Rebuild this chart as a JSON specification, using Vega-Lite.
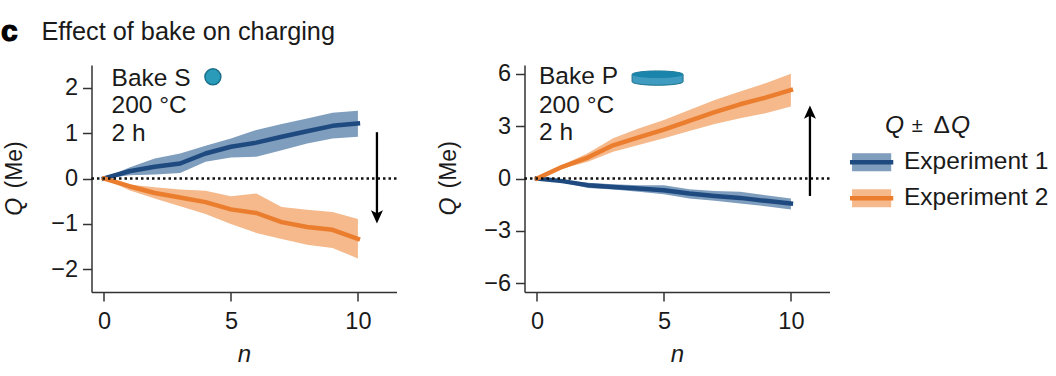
{
"$schema":"https://vega.github.io/schema/vega-lite/v6.json",
"padding":{"left":0.5,"top":17,"right":0,"bottom":0},
"bounds":"flush",
"spacing":128,
"config":{"view":{"stroke":null},"font":"Liberation Sans","axis":{"labelFont":"Liberation Sans","titleFont":"Liberation Sans","labelColor":"#1a1a1a","titleColor":"#1a1a1a","domainColor":"#333333","tickColor":"#333333","domainWidth":1.5,"tickWidth":1.5,"tickSize":9,"labelFontSize":23.5,"titleFontSize":24,"grid":false,"labelPadding":5}},
"datasets":{
"one":[{}],
"s":[
{"exp":"Experiment 1","n":0,"q":0,"lo":0,"hi":0},{"exp":"Experiment 1","n":1,"q":0.16,"lo":0.07,"hi":0.24},{"exp":"Experiment 1","n":2,"q":0.26,"lo":0.09,"hi":0.44},{"exp":"Experiment 1","n":3,"q":0.33,"lo":0.12,"hi":0.55},{"exp":"Experiment 1","n":4,"q":0.55,"lo":0.37,"hi":0.72},{"exp":"Experiment 1","n":5,"q":0.7,"lo":0.46,"hi":0.88},{"exp":"Experiment 1","n":6,"q":0.79,"lo":0.48,"hi":1.07},{"exp":"Experiment 1","n":7,"q":0.92,"lo":0.62,"hi":1.2},{"exp":"Experiment 1","n":8,"q":1.04,"lo":0.77,"hi":1.32},{"exp":"Experiment 1","n":9,"q":1.16,"lo":0.88,"hi":1.45},{"exp":"Experiment 1","n":10,"q":1.21,"lo":0.92,"hi":1.49},
{"exp":"Experiment 2","n":0,"q":0,"lo":0,"hi":0},{"exp":"Experiment 2","n":1,"q":-0.17,"lo":-0.26,"hi":-0.13},{"exp":"Experiment 2","n":2,"q":-0.32,"lo":-0.44,"hi":-0.19},{"exp":"Experiment 2","n":3,"q":-0.42,"lo":-0.61,"hi":-0.24},{"exp":"Experiment 2","n":4,"q":-0.52,"lo":-0.78,"hi":-0.27},{"exp":"Experiment 2","n":5,"q":-0.68,"lo":-1.0,"hi":-0.39},{"exp":"Experiment 2","n":6,"q":-0.76,"lo":-1.2,"hi":-0.33},{"exp":"Experiment 2","n":7,"q":-0.96,"lo":-1.33,"hi":-0.63},{"exp":"Experiment 2","n":8,"q":-1.07,"lo":-1.46,"hi":-0.69},{"exp":"Experiment 2","n":9,"q":-1.13,"lo":-1.53,"hi":-0.74},{"exp":"Experiment 2","n":10,"q":-1.33,"lo":-1.76,"hi":-0.89}
],
"p":[
{"exp":"Experiment 1","n":0,"q":0,"lo":0,"hi":0},{"exp":"Experiment 1","n":1,"q":-0.15,"lo":-0.23,"hi":-0.1},{"exp":"Experiment 1","n":2,"q":-0.38,"lo":-0.54,"hi":-0.25},{"exp":"Experiment 1","n":3,"q":-0.48,"lo":-0.63,"hi":-0.33},{"exp":"Experiment 1","n":4,"q":-0.57,"lo":-0.76,"hi":-0.38},{"exp":"Experiment 1","n":5,"q":-0.67,"lo":-0.9,"hi":-0.38},{"exp":"Experiment 1","n":6,"q":-0.86,"lo":-1.15,"hi":-0.61},{"exp":"Experiment 1","n":7,"q":-1.0,"lo":-1.28,"hi":-0.71},{"exp":"Experiment 1","n":8,"q":-1.11,"lo":-1.43,"hi":-0.76},{"exp":"Experiment 1","n":9,"q":-1.28,"lo":-1.59,"hi":-0.96},{"exp":"Experiment 1","n":10,"q":-1.43,"lo":-1.78,"hi":-1.15},
{"exp":"Experiment 2","n":0,"q":0,"lo":0,"hi":0},{"exp":"Experiment 2","n":1,"q":0.67,"lo":0.57,"hi":0.77},{"exp":"Experiment 2","n":2,"q":1.2,"lo":0.96,"hi":1.44},{"exp":"Experiment 2","n":3,"q":1.9,"lo":1.53,"hi":2.3},{"exp":"Experiment 2","n":4,"q":2.35,"lo":1.92,"hi":2.87},{"exp":"Experiment 2","n":5,"q":2.8,"lo":2.3,"hi":3.35},{"exp":"Experiment 2","n":6,"q":3.3,"lo":2.72,"hi":3.93},{"exp":"Experiment 2","n":7,"q":3.8,"lo":3.12,"hi":4.5},{"exp":"Experiment 2","n":8,"q":4.25,"lo":3.45,"hi":4.98},{"exp":"Experiment 2","n":9,"q":4.63,"lo":3.74,"hi":5.46},{"exp":"Experiment 2","n":10,"q":5.07,"lo":4.12,"hi":6.0}
],
"labels_s":[{"t":"Bake S","y":2.2},{"t":"200 °C","y":1.59},{"t":"2 h","y":0.97}],
"labels_p":[{"t":"Bake P","y":5.79},{"t":"200 °C","y":4.18},{"t":"2 h","y":2.58}],
"legend":[{"exp":"Experiment 1","row":1},{"exp":"Experiment 2","row":2}]
},
"hconcat":[
{"width":305,"height":227,
"title":{"text":"Effect of bake on charging","anchor":"start","frame":"group","fontSize":25.3,"fontWeight":"normal","color":"#1a1a1a","font":"Liberation Sans","dx":-50,"offset":-28},
"layer":[
{"data":{"name":"s"},"mark":{"type":"area","opacity":1},"encoding":{"x":{"field":"n","type":"quantitative","scale":{"domain":[-0.49,11.52],"nice":false,"zero":false},"axis":{"values":[0,5,10],"title":"n","titleFontStyle":"italic","titleFontWeight":"normal","titlePadding":10,"labelPadding":8}},"y":{"field":"lo","type":"quantitative","scale":{"domain":[-2.5,2.5],"nice":false},"axis":{"values":[-2,-1,0,1,2],"title":null}},"y2":{"field":"hi"},"color":{"field":"exp","type":"nominal","scale":{"domain":["Experiment 1","Experiment 2"],"range":["#7f9dbd","#f5b98b"]},"legend":null}}},
{"data":{"name":"s"},"mark":{"type":"line","strokeWidth":4.5,"strokeCap":"square","strokeJoin":"round"},"encoding":{"x":{"field":"n","type":"quantitative"},"y":{"field":"q","type":"quantitative"},"stroke":{"field":"exp","type":"nominal","scale":{"domain":["Experiment 1","Experiment 2"],"range":["#1f4a80","#eb7d2f"]},"legend":null}}},
{"data":{"name":"one"},"mark":{"type":"rule","strokeDash":[2.5,3],"strokeWidth":2.5,"color":"#111111"},"encoding":{"y":{"datum":0}}},
{"data":{"name":"labels_s"},"mark":{"type":"text","align":"left","baseline":"middle","fontSize":24.5,"color":"#1a1a1a"},"encoding":{"x":{"datum":0.3},"y":{"field":"y","type":"quantitative"},"text":{"field":"t"}}},
{"data":{"name":"one"},"mark":{"type":"point","filled":true,"size":254,"color":"#2a9bb8","stroke":"#1a6f8a","strokeWidth":1.5,"opacity":1},"encoding":{"x":{"datum":4.29},"y":{"datum":2.24}}},
{"data":{"name":"one"},"mark":{"type":"rule","color":"#000000","strokeWidth":2.3},"encoding":{"x":{"datum":10.75},"y":{"datum":1.02},"y2":{"datum":-0.9}}},
{"data":{"name":"one"},"mark":{"type":"point","filled":true,"opacity":1,"color":"#000000","size":144,"shape":"M0,0 L-1,-2.2 L0,-1.7 L1,-2.2 Z"},"encoding":{"x":{"datum":10.75},"y":{"datum":-0.99}}},
{"data":{"name":"one"},"mark":{"type":"text","align":"left","baseline":"middle","angle":270,"fontSize":23,"color":"#1a1a1a"},"encoding":{"x":{"datum":-3.5},"y":{"datum":-0.22},"text":{"value":"(Me)"}}},
{"data":{"name":"one"},"mark":{"type":"text","align":"left","baseline":"middle","angle":270,"fontSize":23,"fontStyle":"italic","color":"#1a1a1a"},"encoding":{"x":{"datum":-3.5},"y":{"datum":-0.82},"text":{"value":"Q"}}},
{"data":{"name":"one"},"mark":{"type":"text","align":"left","baseline":"middle","fontSize":30,"fontWeight":"bold","stroke":"#000000","strokeWidth":1.2,"color":"#000000"},"encoding":{"x":{"datum":-4.05},"y":{"datum":3.22},"text":{"value":"c"}}}
]},
{"bounds":"flush","spacing":20.5,"hconcat":[
{"width":305,"height":227,
"layer":[
{"data":{"name":"p"},"mark":{"type":"area","opacity":1},"encoding":{"x":{"field":"n","type":"quantitative","scale":{"domain":[-0.49,11.52],"nice":false,"zero":false},"axis":{"values":[0,5,10],"title":"n","titleFontStyle":"italic","titleFontWeight":"normal","titlePadding":10,"labelPadding":8}},"y":{"field":"lo","type":"quantitative","scale":{"domain":[-6.5,6.5],"nice":false},"axis":{"values":[-6,-3,0,3,6],"title":null}},"y2":{"field":"hi"},"color":{"field":"exp","type":"nominal","scale":{"domain":["Experiment 1","Experiment 2"],"range":["#7f9dbd","#f5b98b"]},"legend":null}}},
{"data":{"name":"p"},"mark":{"type":"line","strokeWidth":4.5,"strokeCap":"square","strokeJoin":"round"},"encoding":{"x":{"field":"n","type":"quantitative"},"y":{"field":"q","type":"quantitative"},"stroke":{"field":"exp","type":"nominal","scale":{"domain":["Experiment 1","Experiment 2"],"range":["#1f4a80","#eb7d2f"]},"legend":null}}},
{"data":{"name":"one"},"mark":{"type":"rule","strokeDash":[2.5,3],"strokeWidth":2.5,"color":"#111111"},"encoding":{"y":{"datum":0}}},
{"data":{"name":"labels_p"},"mark":{"type":"text","align":"left","baseline":"middle","fontSize":24.5,"color":"#1a1a1a"},"encoding":{"x":{"datum":0.08},"y":{"field":"y","type":"quantitative"},"text":{"field":"t"}}},
{"data":{"name":"one"},"mark":{"type":"point","filled":true,"opacity":1,"size":2601,"color":"#3f9cc0","stroke":"#1a6f8a","strokeWidth":1,"shape":"M-1,-0.14 A1,0.14 0 0 1 1,-0.14 L1,0.14 A1,0.14 0 0 1 -1,0.14 Z"},"encoding":{"x":{"datum":4.75},"y":{"datum":5.75}}},
{"data":{"name":"one"},"mark":{"type":"point","filled":true,"opacity":1,"size":2601,"color":"#1a84ab","shape":"M-1,-0.14 A1,0.14 0 0 1 1,-0.14 A1,0.14 0 0 1 -1,-0.14 Z"},"encoding":{"x":{"datum":4.75},"y":{"datum":5.75}}},
{"data":{"name":"one"},"mark":{"type":"rule","color":"#000000","strokeWidth":2.3},"encoding":{"x":{"datum":10.75},"y":{"datum":-1.0},"y2":{"datum":3.9}}},
{"data":{"name":"one"},"mark":{"type":"point","filled":true,"opacity":1,"color":"#000000","size":144,"shape":"M0,0 L-1,2.2 L0,1.7 L1,2.2 Z"},"encoding":{"x":{"datum":10.75},"y":{"datum":4.18}}},
{"data":{"name":"one"},"mark":{"type":"text","align":"left","baseline":"middle","angle":270,"fontSize":23,"color":"#1a1a1a"},"encoding":{"x":{"datum":-3.46},"y":{"datum":-0.57},"text":{"value":"(Me)"}}},
{"data":{"name":"one"},"mark":{"type":"text","align":"left","baseline":"middle","angle":270,"fontSize":23,"fontStyle":"italic","color":"#1a1a1a"},"encoding":{"x":{"datum":-3.46},"y":{"datum":-2.12},"text":{"value":"Q"}}}
]},
{"width":206,"height":227,
"layer":[
{"data":{"name":"legend"},"mark":{"type":"rule","strokeWidth":18,"strokeCap":"butt"},"encoding":{"y":{"field":"row","type":"quantitative","scale":{"domain":[4.6,-1.7],"nice":false,"zero":false},"axis":null},"x":{"datum":0.01,"type":"quantitative","scale":{"domain":[0,1],"nice":false},"axis":null},"x2":{"datum":0.2},"color":{"field":"exp","type":"nominal","scale":{"domain":["Experiment 1","Experiment 2"],"range":["#7f9dbd","#f5b98b"]},"legend":null}}},
{"data":{"name":"legend"},"mark":{"type":"rule","strokeWidth":4.5,"strokeCap":"butt"},"encoding":{"y":{"field":"row","type":"quantitative"},"x":{"datum":0,"type":"quantitative"},"x2":{"datum":0.21},"stroke":{"field":"exp","type":"nominal","scale":{"domain":["Experiment 1","Experiment 2"],"range":["#1f4a80","#eb7d2f"]},"legend":null}}},
{"data":{"name":"legend"},"mark":{"type":"text","align":"left","baseline":"middle","fontSize":24.5,"color":"#1a1a1a"},"encoding":{"y":{"field":"row","type":"quantitative"},"x":{"datum":0.262,"type":"quantitative"},"text":{"field":"exp"}}},
{"data":{"name":"one"},"mark":{"type":"text","align":"left","baseline":"middle","fontSize":24.5,"fontStyle":"italic","color":"#1a1a1a"},"encoding":{"x":{"datum":0.17,"type":"quantitative"},"y":{"datum":0},"text":{"value":"Q"}}},
{"data":{"name":"one"},"mark":{"type":"text","align":"left","baseline":"middle","fontSize":20,"color":"#1a1a1a"},"encoding":{"x":{"datum":0.3,"type":"quantitative"},"y":{"datum":0},"text":{"value":"±"}}},
{"data":{"name":"one"},"mark":{"type":"text","align":"left","baseline":"middle","fontSize":24.5,"color":"#1a1a1a"},"encoding":{"x":{"datum":0.405,"type":"quantitative"},"y":{"datum":0},"text":{"value":"Δ"}}},
{"data":{"name":"one"},"mark":{"type":"text","align":"left","baseline":"middle","fontSize":24.5,"fontStyle":"italic","color":"#1a1a1a"},"encoding":{"x":{"datum":0.49,"type":"quantitative"},"y":{"datum":0},"text":{"value":"Q"}}}
]}
]}
]
}
